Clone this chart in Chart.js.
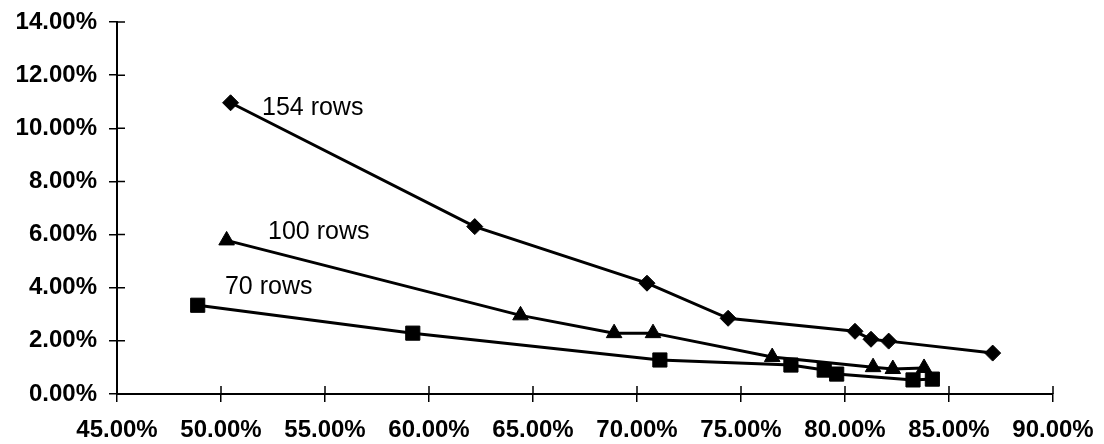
<!DOCTYPE html>
<html>
<head>
<meta charset="utf-8">
<script src="https://cdn.jsdelivr.net/npm/chart.js@4/dist/chart.umd.min.js"></script>
<style>
  html, body { margin: 0; padding: 0; background: #fff; }
  #wrap { width: 1104px; height: 444px; }
</style>
</head>
<body>
<div id="wrap"><canvas id="myChart"></canvas></div>
<script>
// values (x = %, y = %)
const rows154X = [50.46, 62.2, 70.48, 74.38, 80.48, 81.25, 82.1, 87.1];
const rows154Y = [10.96, 6.30, 4.17, 2.85, 2.36, 2.06, 1.99, 1.54];

const rows100X = [50.27, 64.4, 68.9, 70.77, 76.5, 81.35, 82.3, 83.8];
const rows100Y = [5.78, 2.96, 2.29, 2.29, 1.39, 1.01, 0.94, 0.98];

const rows70X = [48.88, 59.22, 71.1, 77.4, 79.0, 79.6, 83.27, 84.2];
const rows70Y = [3.34, 2.29, 1.28, 1.09, 0.90, 0.75, 0.53, 0.56];

// series labels written next to the lines
const labelTexts = ['154 rows', '100 rows', '70 rows'];
const labelX = [51.97, 52.26, 50.19];
const labelY = [10.77, 6.08, 4.01];

const ctx = document.getElementById('myChart');

function pts(xs, ys) {
    return xs.map((x, i) => ({ x: x, y: ys[i] }));
}

function series(name, xs, ys, shape, r) {
    return {
        label: name,
        data: pts(xs, ys),
        showLine: true,
        borderColor: '#000',
        backgroundColor: '#000',
        borderWidth: 3,
        pointStyle: shape,
        pointRadius: r,
        pointBorderWidth: 1,
        pointBackgroundColor: '#000',
        pointBorderColor: '#000'
    };
}

// ticks cross the axes, so draw the inner half too
const crossTicks = {
    id: 'crossTicks',
    afterDraw(chart) {
        const c = chart.ctx, xs = chart.scales.x, ys = chart.scales.y;
        c.save();
        c.strokeStyle = '#000';
        c.lineWidth = 1.5;
        c.beginPath();
        xs.ticks.forEach(t => {
            const px = xs.getPixelForValue(t.value);
            c.moveTo(px, ys.bottom);
            c.lineTo(px, ys.bottom - 8);
        });
        ys.ticks.forEach(t => {
            const py = ys.getPixelForValue(t.value);
            c.moveTo(xs.left, py);
            c.lineTo(xs.left + 8, py);
        });
        c.stroke();

        // row labels
        c.fillStyle = '#000';
        c.font = '25px "Liberation Sans", Arial, sans-serif';
        c.textBaseline = 'middle';
        c.textAlign = 'left';
        labelTexts.forEach((txt, i) => {
            c.fillText(txt, xs.getPixelForValue(labelX[i]), ys.getPixelForValue(labelY[i]));
        });
        c.restore();
    }
};

const tickFont = { family: '"Liberation Sans", Arial, sans-serif', size: 24, weight: 'bold' };

new Chart(ctx, {
    type: 'scatter',
    data: {
        datasets: [
            series('154 rows', rows154X, rows154Y, 'rectRot', 8),
            series('100 rows', rows100X, rows100Y, 'triangle', 9),
            series('70 rows', rows70X, rows70Y, 'rect', 10)
        ]
    },
    options: {
        responsive: true,
        maintainAspectRatio: false,
        animation: false,
        layout: { padding: { top: 22, right: 51, left: 0, bottom: 0 } },
        plugins: {
            legend: { display: false },
            tooltip: { enabled: false }
        },
        scales: {
            x: {
                type: 'linear',
                min: 45,
                max: 90,
                afterFit(s) { s.height = 50; s.paddingLeft = 0; s.paddingRight = 0; },
                border: { color: '#000', width: 2 },
                grid: { drawOnChartArea: false, drawTicks: true, tickLength: 8, color: '#000', lineWidth: 1.5 },
                ticks: {
                    stepSize: 5,
                    color: '#000',
                    font: tickFont,
                    padding: 14,
                    maxRotation: 0,
                    callback: v => v.toFixed(2) + '%'
                }
            },
            y: {
                min: 0,
                max: 14,
                afterFit(s) { s.width = 117; s.paddingTop = 0; s.paddingBottom = 0; },
                border: { color: '#000', width: 2 },
                grid: { drawOnChartArea: false, drawTicks: true, tickLength: 8, color: '#000', lineWidth: 1.5 },
                ticks: {
                    stepSize: 2,
                    color: '#000',
                    font: tickFont,
                    padding: 12,
                    callback: v => v.toFixed(2) + '%'
                }
            }
        }
    },
    plugins: [crossTicks]
});
</script>
</body>
</html>
